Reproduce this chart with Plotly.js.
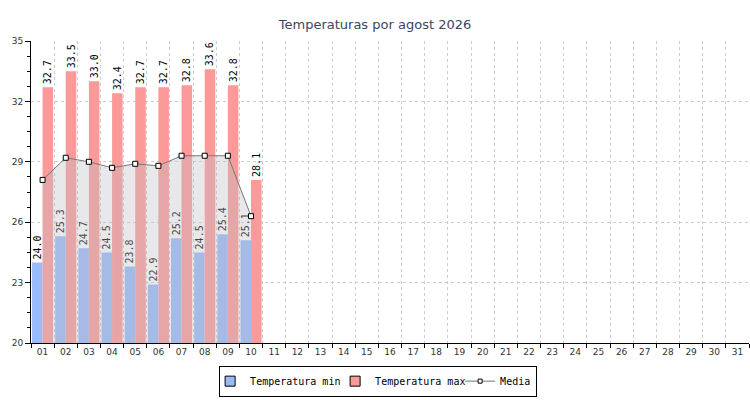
<!DOCTYPE html>
<html>
<head>
<meta charset="utf-8">
<script src="https://cdn.plot.ly/plotly-3.0.1.min.js"></script>
<style>
  html, body { margin: 0; padding: 0; background: #ffffff; }
  #chart { width: 750px; height: 400px; }
</style>
</head>
<body>
<div id="chart"></div>
<script>
const DAYS = ["01", "02", "03", "04", "05", "06", "07", "08", "09", "10",
  "11", "12", "13", "14", "15", "16", "17", "18", "19", "20",
  "21", "22", "23", "24", "25", "26", "27", "28", "29", "30", "31"];
const DATA_DAYS = ["01", "02", "03", "04", "05", "06", "07", "08", "09", "10"];
const TEMP_MIN = [24.0, 25.3, 24.7, 24.5, 23.8, 22.9, 25.2, 24.5, 25.4, 25.1];
const TEMP_MAX = [32.7, 33.5, 33.0, 32.4, 32.7, 32.7, 32.8, 33.6, 32.8, 28.1];
const MEDIA = [28.1, 29.2, 29.0, 28.7, 28.9, 28.8, 29.3, 29.3, 29.3, 26.3];

const MONO = "\"DejaVu Sans Mono\", monospace";
const SANS = "\"DejaVu Sans\", sans-serif";
const COLORS = {
  min: "#99bbf7",
  max: "#fc9999",
  line: "#777777",
  fill: "rgba(188, 188, 194, 0.35)",
  grid: "#cccccc",
};

function barTrace(name, values, color) {
  return {
    type: "bar",
    name,
    x: DATA_DAYS,
    y: values,
    showlegend: false,
    marker: { color, line: { width: 0 } },
    text: values.map((v) => v.toFixed(1)),
    textposition: "outside",
    textangle: -90,
    constraintext: "none",
    cliponaxis: false,
    textfont: { family: MONO, size: 10, color: "#000000" },
    hoverinfo: "x+y",
  };
}

// legend-only entries, so the swatches get a black border without touching the bars
function legendSwatch(name, color) {
  return {
    type: "scatter",
    mode: "markers",
    name,
    x: [null],
    y: [null],
    legendwidth: 90,
    marker: { symbol: "square", size: 10, color, line: { color: "#000000", width: 1 } },
  };
}

const traces = [
  barTrace("Temperatura min", TEMP_MIN, COLORS.min),
  barTrace("Temperatura max", TEMP_MAX, COLORS.max),
  {
    type: "scatter",
    mode: "lines+markers",
    name: "Media",
    x: DATA_DAYS,
    y: MEDIA,
    fill: "tozeroy",
    fillcolor: COLORS.fill,
    showlegend: false,
    line: { color: COLORS.line, width: 1 },
    marker: { symbol: "square", size: 5, color: "#ffffff", line: { color: "#000000", width: 1 } },
  },
  legendSwatch("Temperatura min", COLORS.min),
  legendSwatch("Temperatura max", COLORS.max),
  {
    type: "scatter",
    mode: "lines+markers",
    name: "Media",
    x: [null],
    y: [null],
    line: { color: COLORS.line, width: 1 },
    marker: { symbol: "square", size: 4, color: "#ffffff", line: { color: "#000000", width: 1 } },
  },
];

const layout = {
  width: 750,
  height: 400,
  paper_bgcolor: "#ffffff",
  plot_bgcolor: "#ffffff",
  margin: { l: 31, r: 1, t: 41, b: 57 },
  font: { family: SANS, size: 10, color: "#333333" },
  title: {
    text: "Temperaturas por agost 2026",
    font: { family: SANS, size: 13, color: "#3b4660" },
    x: 0.5,
    xanchor: "center",
    y: 0.938,
    yanchor: "middle",
  },
  barmode: "group",
  bargap: 0.09,
  bargroupgap: 0,
  showlegend: true,
  legend: {
    orientation: "h",
    x: 0.262,
    xanchor: "left",
    y: -0.075,
    yanchor: "top",
    bgcolor: "#ffffff",
    bordercolor: "#000000",
    borderwidth: 1,
    font: { family: MONO, size: 10, color: "#000000" },
    itemsizing: "trace",
    itemwidth: 30,
    indentation: -10,
    traceorder: "normal",
  },
  xaxis: {
    type: "category",
    categoryorder: "array",
    categoryarray: DAYS,
    range: [-0.5, DAYS.length - 0.5],
    tickson: "boundaries",
    ticks: "outside",
    ticklen: 4,
    tickcolor: "#000000",
    showline: true,
    linecolor: "#000000",
    linewidth: 1,
    showgrid: true,
    gridcolor: COLORS.grid,
    griddash: "3px,3px",
    zeroline: false,
    tickfont: { family: SANS, size: 9, color: "#333333" },
    fixedrange: true,
  },
  yaxis: {
    range: [20, 35],
    tick0: 20,
    dtick: 3,
    ticks: "outside",
    ticklen: 5,
    tickcolor: "#000000",
    showline: true,
    linecolor: "#000000",
    linewidth: 1,
    showgrid: true,
    gridcolor: COLORS.grid,
    griddash: "3px,3px",
    zeroline: false,
    tickfont: { family: SANS, size: 9, color: "#333333" },
    minor: { dtick: 0.75, tick0: 20, ticks: "outside", ticklen: 3, tickcolor: "#000000", showgrid: false },
    fixedrange: true,
  },
};

Plotly.newPlot("chart", traces, layout, { displayModeBar: false, staticPlot: true });
</script>
</body>
</html>
